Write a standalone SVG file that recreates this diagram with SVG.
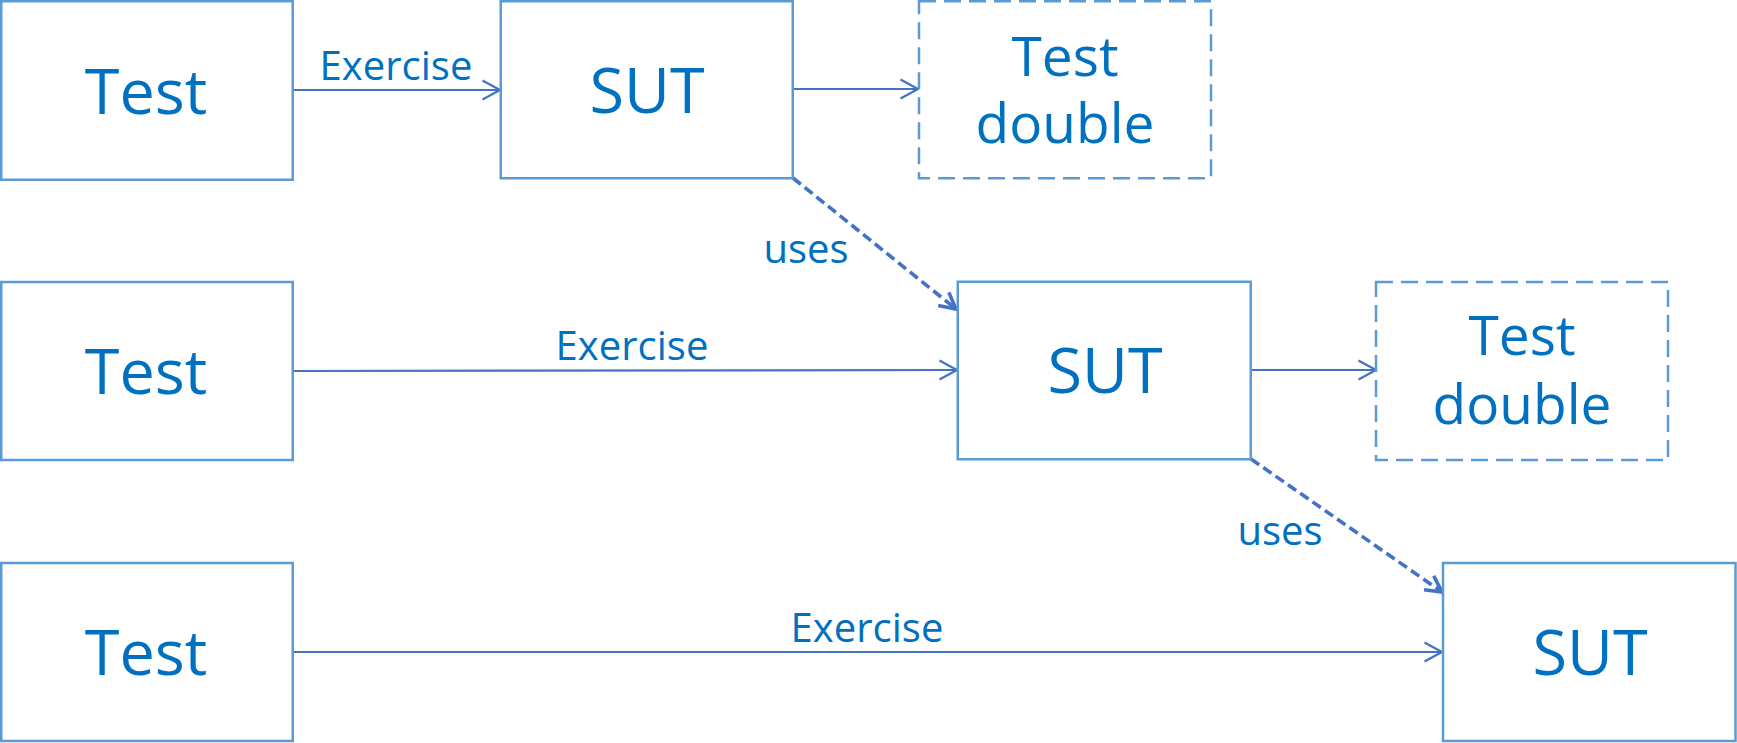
<svg xmlns="http://www.w3.org/2000/svg" width="1737" height="743" viewBox="0 0 1737 743">
<style>
.box{fill:#ffffff;stroke:#5b9bd5;stroke-width:2.5}
.dbl{fill:#ffffff;stroke:#5b9bd5;stroke-width:2.5;stroke-dasharray:17 8}
.big{font-family:"Open Sans","Noto Sans",sans-serif;font-size:63px;fill:#0070c0;text-anchor:middle}
.mid{font-family:"Open Sans","Noto Sans",sans-serif;font-size:55px;fill:#0070c0;text-anchor:middle}
.lbl{font-family:"Open Sans","Noto Sans",sans-serif;font-size:40px;fill:#0070c0;text-anchor:middle}
.con{fill:none;stroke:#4472c4;stroke-width:2.2}
.use{fill:none;stroke:#4472c4;stroke-width:3.6;stroke-dasharray:10 5}
</style>
<defs>
<marker id="arr" markerUnits="userSpaceOnUse" markerWidth="22" markerHeight="24" viewBox="0 0 22 24" refX="19" refY="12" orient="auto">
<path d="M1.5,2.5 L19,12 L1.5,21.5" fill="none" stroke="#4472c4" stroke-width="2.2"/>
</marker>
<marker id="arrd" markerUnits="userSpaceOnUse" markerWidth="22" markerHeight="24" viewBox="0 0 22 24" refX="19" refY="12" orient="auto">
<path d="M3,3.5 L19,12 L3,20.5" fill="none" stroke="#4472c4" stroke-width="3.6" stroke-dasharray="none"/>
</marker>
</defs>
<g id="connectors">
<path class="con" d="M293,90 L500,90" marker-end="url(#arr)"/>
<path class="con" d="M793,89 L918,89" marker-end="url(#arr)"/>
<path class="use" d="M793,178 L956,309" marker-end="url(#arrd)"/>
<path class="con" d="M293,371 L957,370" marker-end="url(#arr)"/>
<path class="con" d="M1251,370 L1376,370" marker-end="url(#arr)"/>
<path class="use" d="M1251,459 L1442,592" marker-end="url(#arrd)"/>
<path class="con" d="M293,652 L1442,652" marker-end="url(#arr)"/>
<text class="lbl" x="396" y="80">Exercise</text>
<text class="lbl" x="806" y="263">uses</text>
<text class="lbl" x="632" y="360">Exercise</text>
<text class="lbl" x="1280" y="545">uses</text>
<text class="lbl" x="867" y="642">Exercise</text>
</g>
<g id="test1"><rect class="box" x="1.25" y="1.25" width="291.5" height="178.5"/><text class="big" x="146" y="114">Test</text></g>
<g id="sut1"><rect class="box" x="500.75" y="1.25" width="292" height="177"/><text class="big" x="647" y="113">SUT</text></g>
<g id="double1"><rect class="dbl" x="919" y="1.25" width="292" height="177"/><text class="mid" x="1065" y="76">Test</text><text class="mid" x="1065" y="143">double</text></g>
<g id="test2"><rect class="box" x="1.25" y="282" width="291.5" height="178"/><text class="big" x="146" y="394">Test</text></g>
<g id="sut2"><rect class="box" x="957.75" y="281.75" width="293" height="177.5"/><text class="big" x="1105" y="393">SUT</text></g>
<g id="double2"><rect class="dbl" x="1376" y="282" width="292" height="178"/><text class="mid" x="1522" y="355">Test</text><text class="mid" x="1522" y="424">double</text></g>
<g id="test3"><rect class="box" x="1.25" y="563" width="291.5" height="178"/><text class="big" x="146" y="675">Test</text></g>
<g id="sut3"><rect class="box" x="1443" y="563" width="292.5" height="178"/><text class="big" x="1590" y="675">SUT</text></g>
</svg>
